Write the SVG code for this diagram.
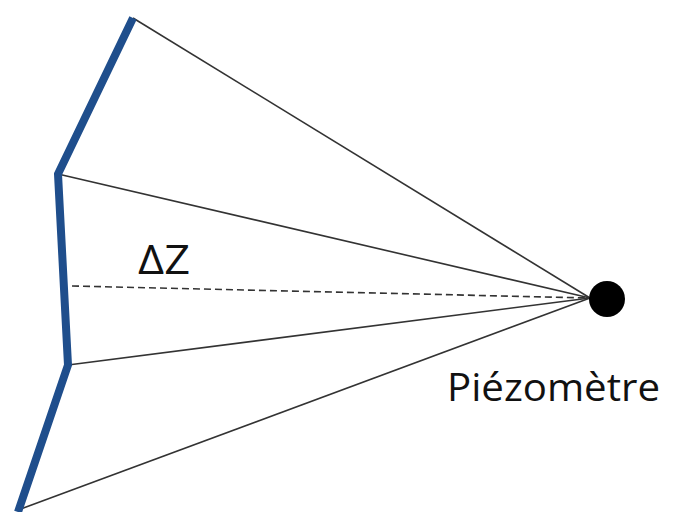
<svg xmlns="http://www.w3.org/2000/svg" width="676" height="512" viewBox="0 0 676 512">
<style>
.ray{stroke:#333;stroke-width:1.6;fill:none}
.wall{stroke:#1f4e8c;stroke-width:8;fill:none;stroke-linejoin:miter}
.lbl{font-family:"Open Sans","Noto Sans",sans-serif;fill:#111}
</style>
<rect width="676" height="512" fill="#fff"/>
<g id="connectors">
<line class="ray" x1="133" y1="18" x2="590" y2="298"/>
<line class="ray" x1="58" y1="174" x2="590" y2="298"/>
<line class="ray" x1="68" y1="365" x2="590" y2="298"/>
<line class="ray" x1="18" y1="510" x2="590" y2="298"/>
<line class="ray" x1="72" y1="286" x2="590" y2="298" stroke-dasharray="7,4" stroke="#555" stroke-width="2.5"/>
</g>
<g id="wall">
<polyline class="wall" points="133,18 58,174 68,365 18,512"/>
</g>
<g id="piezometre">
<circle cx="607" cy="299" r="18" fill="#000"/>
<text class="lbl" x="447" y="401" font-size="38" textLength="213" lengthAdjust="spacingAndGlyphs">Piézomètre</text>
</g>
<g id="deltaz">
<text class="lbl" x="138" y="274" font-size="40" textLength="52" lengthAdjust="spacingAndGlyphs">ΔZ</text>
</g>
</svg>
